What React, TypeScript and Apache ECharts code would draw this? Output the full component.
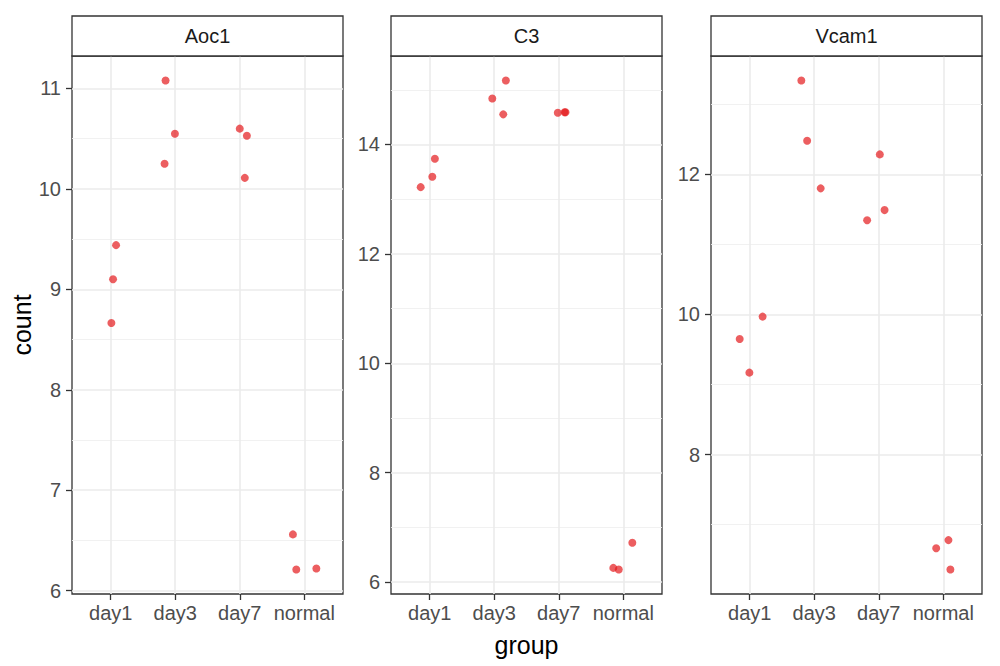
import React, { useEffect, useRef } from "react";
import * as echarts from "echarts";

const groups = ["day1", "day3", "day7", "normal"];
const panelNames = ["Aoc1", "C3", "Vcam1"];

// group index (1-based), horizontal jitter, and count value for each sample
const aoc1Group = [1, 1, 1, 2, 2, 2, 3, 3, 3, 4, 4, 4];
const aoc1Jitter = [0.01, 0.036, 0.083, -0.15, -0.005, -0.165, 0.0, 0.11, 0.078, -0.176, -0.124, 0.187];
const aoc1Count = [8.665, 9.1, 9.44, 11.08, 10.55, 10.25, 10.6, 10.53, 10.11, 6.56, 6.21, 6.22];

const c3Group = [1, 1, 1, 2, 2, 2, 3, 3, 3, 4, 4, 4];
const c3Jitter = [0.08, 0.04, -0.14, 0.18, -0.03, 0.14, -0.015, 0.09, 0.105, 0.14, -0.155, -0.07];
const c3Count = [13.74, 13.41, 13.22, 15.17, 14.84, 14.55, 14.58, 14.59, 14.59, 6.72, 6.26, 6.23];

const vcam1Group = [1, 1, 1, 2, 2, 2, 3, 3, 3, 4, 4, 4];
const vcam1Jitter = [0.2, -0.155, -0.005, -0.2, -0.11, 0.1, 0.016, 0.09, -0.18, 0.08, -0.11, 0.11];
const vcam1Count = [9.97, 9.65, 9.17, 13.34, 12.48, 11.8, 12.285, 11.49, 11.345, 6.78, 6.665, 6.36];

const aoc1Major = [6, 7, 8, 9, 10, 11];
const aoc1Minor = [6.5, 7.5, 8.5, 9.5, 10.5];
const c3Major = [6, 8, 10, 12, 14];
const c3Minor = [7, 9, 11, 13, 15];
const vcam1Major = [8, 10, 12];
const vcam1Minor = [7, 9, 11, 13];

const xTicks = [1, 2, 3, 4];

const FONT = "Liberation Sans, Arial, Helvetica, sans-serif";

export default function App() {
  const ref = useRef<HTMLDivElement>(null);

  useEffect(() => {
    document.body.style.margin = "0";
    if (!ref.current) return;
    const chart = echarts.init(ref.current, null, { renderer: "svg" });

    const panels = [
      { g: aoc1Group, j: aoc1Jitter, v: aoc1Count, major: aoc1Major, minor: aoc1Minor },
      { g: c3Group, j: c3Jitter, v: c3Count, major: c3Major, minor: c3Minor },
      { g: vcam1Group, j: vcam1Jitter, v: vcam1Count, major: vcam1Major, minor: vcam1Minor },
    ];
    const lefts = [72, 391, 711];
    const W = 271;
    const TOP = 56;
    const H = 538;

    const grid: any[] = [];
    const xAxis: any[] = [];
    const yAxis: any[] = [];
    const series: any[] = [];
    const graphic: any[] = [];

    panels.forEach((p, i) => {
      const lo = Math.min(...p.v);
      const hi = Math.max(...p.v);
      const pad = (hi - lo) * 0.05;
      const ymin = lo - pad;
      const ymax = hi + pad;

      grid.push({
        left: lefts[i],
        top: TOP,
        width: W,
        height: H,
        show: true,
        borderColor: "#333333",
        borderWidth: 1.3,
        backgroundColor: "#ffffff",
      });

      xAxis.push({
        type: "value",
        gridIndex: i,
        min: 0.4,
        max: 4.6,
        axisLine: { show: false },
        axisTick: {
          show: true,
          customValues: xTicks,
          length: 6,
          lineStyle: { color: "#333333", width: 1.3 },
        },
        axisLabel: {
          customValues: xTicks,
          formatter: (val: number) => groups[Math.round(val) - 1] ?? "",
          color: "#4D4D4D",
          fontSize: 20,
          fontFamily: FONT,
          margin: 9,
        },
        splitLine: { show: true, lineStyle: { color: "#EBEBEB", width: 1.6 } },
      });

      yAxis.push({
        type: "value",
        gridIndex: i,
        min: ymin,
        max: ymax,
        position: "left",
        axisLine: { show: false },
        axisTick: {
          show: true,
          customValues: p.major,
          length: 6,
          lineStyle: { color: "#333333", width: 1.3 },
        },
        axisLabel: {
          customValues: p.major,
          color: "#4D4D4D",
          fontSize: 20,
          fontFamily: FONT,
          margin: 11,
        },
        splitLine: { show: true, lineStyle: { color: "#EBEBEB", width: 1.6 } },
      });
    });

    panels.forEach((p, i) => {
      const lo = Math.min(...p.v);
      const hi = Math.max(...p.v);
      const pad = (hi - lo) * 0.05;
      yAxis.push({
        type: "value",
        gridIndex: i,
        min: lo - pad,
        max: hi + pad,
        position: "right",
        axisLine: { show: false },
        axisTick: { show: false, customValues: p.minor },
        axisLabel: { show: false, customValues: p.minor },
        splitLine: { show: true, lineStyle: { color: "#EFEFEF", width: 0.9 } },
        z: 0,
      });
    });

    panels.forEach((p, i) => {
      series.push({
        type: "scatter",
        xAxisIndex: i,
        yAxisIndex: i,
        symbolSize: 8,
        itemStyle: { color: "#E41A1C", opacity: 0.7 },
        data: p.v.map((val, k) => [p.g[k] + p.j[k], val]),
        z: 5,
      });

      graphic.push({
        type: "rect",
        shape: { x: lefts[i], y: 16, width: W, height: 40 },
        style: { fill: "#ffffff", stroke: "#333333", lineWidth: 1.3 },
        z: 10,
      });
      graphic.push({
        type: "text",
        x: lefts[i] + W / 2,
        y: 36,
        style: {
          text: panelNames[i],
          fill: "#1A1A1A",
          fontSize: 20,
          fontFamily: FONT,
          textAlign: "center",
          textVerticalAlign: "middle",
        },
        z: 11,
      });
    });

    graphic.push({
      type: "text",
      x: 22,
      y: 325,
      rotation: Math.PI / 2,
      style: {
        text: "count",
        fill: "#000000",
        fontSize: 25,
        fontFamily: FONT,
        textAlign: "center",
        textVerticalAlign: "middle",
      },
    });
    graphic.push({
      type: "text",
      x: 526.5,
      y: 645,
      style: {
        text: "group",
        fill: "#000000",
        fontSize: 25,
        fontFamily: FONT,
        textAlign: "center",
        textVerticalAlign: "middle",
      },
    });

    chart.setOption({
      animation: false,
      backgroundColor: "#ffffff",
      grid,
      xAxis,
      yAxis,
      series,
      graphic,
    });

    return () => chart.dispose();
  }, []);

  return <div ref={ref} style={{ width: 1000, height: 666 }} />;
}
